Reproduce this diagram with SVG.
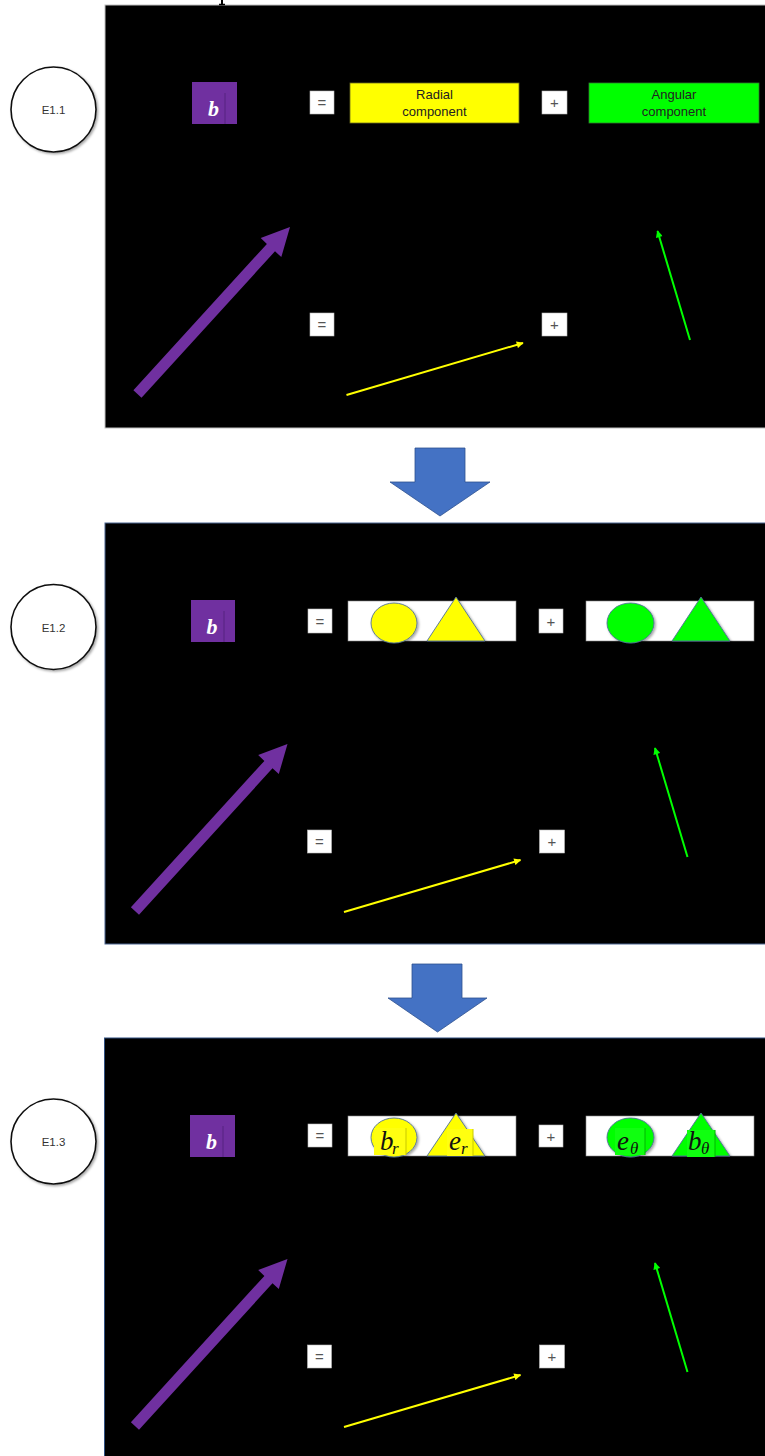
<svg xmlns="http://www.w3.org/2000/svg" width="765" height="1456" viewBox="0 0 765 1456">
<style>
  .panel { fill: #000; }
  .label-circle { fill: #fff; stroke: #111; stroke-width: 1.6; }
  .label-text { font-family: "Liberation Sans", Arial, sans-serif; font-size: 11.5px; fill: #333; text-anchor: middle; }
  .op-box { fill: #fff; stroke: #bbb; stroke-width: 0.6; }
  .op-text { font-family: "Liberation Sans", Arial, sans-serif; font-size: 15px; fill: #555; text-anchor: middle; }
  .vec-box { fill: #7030A0; }
  .vec-edge { stroke: #5a2585; stroke-width: 1.2; }
  .vec-text { font-family: "Liberation Serif", "Times New Roman", serif; font-style: italic; font-weight: bold; font-size: 22px; fill: #fff; text-anchor: middle; }
  .comp-text { font-family: "Liberation Sans", Arial, sans-serif; font-size: 13px; fill: #222; text-anchor: middle; }
  .slot { fill: #fff; stroke: #888; stroke-width: 0.6; }
  .shape { stroke: #50709a; stroke-width: 0.9; }
  .sym { font-family: "Liberation Serif", "Times New Roman", serif; font-style: italic; font-size: 27px; fill: #111; }
  .sub { font-family: "Liberation Serif", "Times New Roman", serif; font-style: italic; font-size: 17px; fill: #111; }
  .flow { fill: #4472C4; stroke: #2f528f; stroke-width: 0.8; }
  .vec-b { fill: #7030A0; }
  .vec-r { stroke: #FFFF00; stroke-width: 2; fill: none; }
  .vec-t { stroke: #00FF00; stroke-width: 2; fill: none; }
</style>
<defs>
  <marker id="headY" viewBox="0 0 10 10" refX="9" refY="5" markerWidth="8" markerHeight="7" markerUnits="userSpaceOnUse" orient="auto">
    <path d="M0,0 L10,5 L0,10 z" fill="#FFFF00"/>
  </marker>
  <marker id="headG" viewBox="0 0 10 10" refX="9" refY="5" markerWidth="8" markerHeight="7" markerUnits="userSpaceOnUse" orient="auto">
    <path d="M0,0 L10,5 L0,10 z" fill="#00FF00"/>
  </marker>
  <filter id="soft" x="-20%" y="-20%" width="150%" height="150%">
    <feDropShadow dx="1.5" dy="1.5" stdDeviation="1" flood-color="#000" flood-opacity="0.35"/>
  </filter>
  <!-- vector diagram: b = radial + angular -->
  <g id="scene">
    <rect class="op-box" x="310" y="313" width="24" height="23"/>
    <text class="op-text" x="322" y="330">=</text>
    <rect class="op-box" x="542" y="313" width="25" height="23"/>
    <text class="op-text" x="554.5" y="330">+</text>
    <polygon class="vec-b" points="133.4,390.3 266.9,243.9 260.7,238.1 290,227 281.3,257.1 275,251.3 141.5,397.7"/>
    <line class="vec-r" x1="346.5" y1="395" x2="523" y2="343" marker-end="url(#headY)"/>
    <line class="vec-t" x1="690" y1="340" x2="657.5" y2="231" marker-end="url(#headG)"/>
  </g>
</defs>

<!-- panels -->
<g id="panels">
  <rect class="panel" x="105" y="5" width="662" height="423" stroke="#bfbfbf" stroke-width="1"/>
  <line x1="222" y1="0" x2="222" y2="5" stroke="#000" stroke-width="2"/>
  <line x1="219" y1="4.5" x2="225" y2="4.5" stroke="#000" stroke-width="1.5"/>
  <rect class="panel" x="105" y="523" width="662" height="421" stroke="#4a6590" stroke-width="1"/>
  <rect class="panel" x="104.5" y="1038" width="662" height="422" stroke="#2f4f80" stroke-width="1"/>
</g>

<!-- step labels -->
<g id="label-e11">
  <circle class="label-circle" cx="53.5" cy="109.5" r="42.5" filter="url(#soft)"/>
  <text class="label-text" x="53.5" y="114">E1.1</text>
</g>
<g id="label-e12">
  <circle class="label-circle" cx="53.5" cy="627" r="42.5" filter="url(#soft)"/>
  <text class="label-text" x="53.5" y="631.5">E1.2</text>
</g>
<g id="label-e13">
  <circle class="label-circle" cx="53.5" cy="1141.5" r="42.5" filter="url(#soft)"/>
  <text class="label-text" x="53.5" y="1146">E1.3</text>
</g>

<!-- E1.1 equation row -->
<g id="b-1">
  <rect class="vec-box" x="192" y="82" width="45" height="42"/>
  <line class="vec-edge" x1="225" y1="93" x2="225" y2="124"/>
  <text class="vec-text" x="213.5" y="116">b</text>
</g>
<g id="eq-1">
  <rect class="op-box" x="310" y="91" width="24" height="23"/>
  <text class="op-text" x="322" y="108">=</text>
</g>
<g id="radial-1">
  <rect x="350" y="83" width="169" height="40" fill="#FFFF00" stroke="#6b6b20" stroke-width="0.8"/>
  <text class="comp-text" x="434.5" y="99">Radial</text>
  <text class="comp-text" x="434.5" y="116">component</text>
</g>
<g id="plus-1">
  <rect class="op-box" x="542" y="91" width="25" height="23"/>
  <text class="op-text" x="554.5" y="108">+</text>
</g>
<g id="angular-1">
  <rect x="589" y="83" width="170" height="40" fill="#00FF00" stroke="#2f7a2f" stroke-width="0.8"/>
  <text class="comp-text" x="674" y="99">Angular</text>
  <text class="comp-text" x="674" y="116">component</text>
</g>

<!-- E1.2 equation row -->
<g id="b-2">
  <rect class="vec-box" x="191" y="600" width="44" height="42"/>
  <line class="vec-edge" x1="224" y1="611" x2="224" y2="642"/>
  <text class="vec-text" x="212" y="634">b</text>
</g>
<g id="eq-2">
  <rect class="op-box" x="308" y="609" width="24" height="24"/>
  <text class="op-text" x="320" y="626.5">=</text>
</g>
<g id="radial-2">
  <rect class="slot" x="348" y="601" width="168" height="40"/>
  <ellipse class="shape" cx="394" cy="623" rx="23" ry="20" fill="#FFFF00" filter="url(#soft)"/>
  <polygon class="shape" points="456,597 485,641 427,641" fill="#FFFF00" filter="url(#soft)"/>
</g>
<g id="plus-2">
  <rect class="op-box" x="539" y="609" width="24" height="24"/>
  <text class="op-text" x="551" y="626.5">+</text>
</g>
<g id="angular-2">
  <rect class="slot" x="586" y="601" width="168" height="40"/>
  <ellipse class="shape" cx="630.5" cy="623" rx="23.5" ry="20" fill="#00FF00" filter="url(#soft)"/>
  <polygon class="shape" points="701,597 730,641 672,641" fill="#00FF00" filter="url(#soft)"/>
</g>

<!-- E1.3 equation row -->
<g id="b-3">
  <rect class="vec-box" x="190" y="1115" width="45" height="42"/>
  <line class="vec-edge" x1="223" y1="1126" x2="223" y2="1157"/>
  <text class="vec-text" x="211.5" y="1149">b</text>
</g>
<g id="eq-3">
  <rect class="op-box" x="308" y="1124" width="24" height="23"/>
  <text class="op-text" x="320" y="1141">=</text>
</g>
<g id="radial-3">
  <rect class="slot" x="348" y="1116" width="168" height="40"/>
  <ellipse class="shape" cx="394" cy="1137.5" rx="23" ry="19.5" fill="#FFFF00" filter="url(#soft)"/>
  <polygon class="shape" points="456,1113 485,1156 427,1156" fill="#FFFF00" filter="url(#soft)"/>
  <rect x="374" y="1128" width="32" height="27" fill="#FFFF10"/>
  <line x1="406" y1="1128" x2="406" y2="1155" stroke="#c9c900" stroke-width="1"/>
  <rect x="447" y="1129" width="26" height="27" fill="#FFFF10"/>
  <line x1="473" y1="1129" x2="473" y2="1156" stroke="#c9c900" stroke-width="1"/>
  <text class="sym" x="380" y="1150">b</text>
  <text class="sub" x="392" y="1154">r</text>
  <text class="sym" x="449" y="1150">e</text>
  <text class="sub" x="461" y="1154">r</text>
</g>
<g id="plus-3">
  <rect class="op-box" x="539" y="1125" width="24" height="22"/>
  <text class="op-text" x="551" y="1141.5">+</text>
</g>
<g id="angular-3">
  <rect class="slot" x="586" y="1116" width="168" height="40"/>
  <ellipse class="shape" cx="630.5" cy="1137.5" rx="23.5" ry="19.5" fill="#00FF00" filter="url(#soft)"/>
  <polygon class="shape" points="701,1113 730,1156 672,1156" fill="#00FF00" filter="url(#soft)"/>
  <rect x="615" y="1128" width="30" height="27" fill="#10FF10"/>
  <line x1="645" y1="1128" x2="645" y2="1155" stroke="#00b800" stroke-width="1"/>
  <rect x="687" y="1130" width="28" height="27" fill="#10FF10"/>
  <line x1="715" y1="1130" x2="715" y2="1157" stroke="#00b800" stroke-width="1"/>
  <text class="sym" x="617" y="1150">e</text>
  <text class="sub" x="630" y="1154">θ</text>
  <text class="sym" x="688" y="1150">b</text>
  <text class="sub" x="701" y="1154">θ</text>
</g>

<!-- vector sketches under each row -->
<g id="vectors-1"><use href="#scene"/></g>
<g id="vectors-2"><use href="#scene" transform="translate(-2.5,517)"/></g>
<g id="vectors-3"><use href="#scene" transform="translate(-2.5,1032)"/></g>

<!-- transitions between steps -->
<g id="connectors">
  <polygon class="flow" points="415,448 465,448 465,482 490,482 440,516 390,482 415,482"/>
  <polygon class="flow" points="412,964 462,964 462,998 487,998 437.5,1032 388,998 412,998"/>
</g>
</svg>
